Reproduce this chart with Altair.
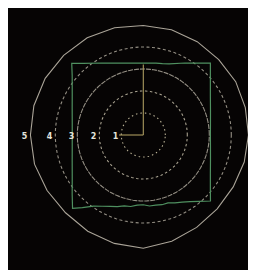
import altair as alt
import pandas as pd

# ---- data (radial units) ----
ring_values = [1, 2, 3, 4]
ring_dashes = [[1.5, 3], [2.5, 2.5], [5, 1], [3, 2.5]]
ring_colors = ["#b8b094", "#a8a290", "#948f84", "#948f84"]

outer_angles = [0, 15, 30, 45, 60, 75, 90, 105, 120, 135, 150, 165, 180,
                195, 210, 225, 240, 255, 270, 285, 300, 315, 330, 345, 360]
outer_radii = [4.78, 4.8, 4.85, 4.85, 4.9, 4.95, 4.98, 5.05, 5.1, 5.12, 5.15, 5.15, 5.13,
               5.12, 5.05, 5.0, 5.05, 5.1, 5.15, 5.0, 4.85, 4.75, 4.72, 4.75, 4.78]

square_angles = [0, 10, 20, 30, 40, 47, 50, 60, 70, 75, 80, 90, 100, 110, 120, 130, 135,
                 140, 150, 160, 170, 180, 190, 200, 210, 220, 226, 230, 235, 240, 245, 250,
                 255, 260, 265, 270, 275, 280, 285, 290, 295, 300, 305, 310, 315.5, 320,
                 330, 340, 350, 360]
square_radii = [3.05, 3.10, 3.25, 3.52, 3.98, 4.47, 4.27, 3.78, 3.44, 3.36, 3.32, 3.27, 3.32,
                3.48, 3.78, 4.25, 4.60, 4.22, 3.73, 3.44, 3.28, 3.23, 3.28, 3.44, 3.73, 4.22,
                4.63, 4.31, 3.95, 3.74, 3.58, 3.46, 3.34, 3.30, 3.20, 3.17, 3.24, 3.24, 3.28,
                3.28, 3.40, 3.52, 3.70, 3.94, 4.28, 3.98, 3.52, 3.25, 3.10, 3.05]

spoke_angles = [90, 180]
spoke_lengths = [3.2, 1.1]

label_texts = ["5", "4", "3", "2", "1"]
label_radii = [5.13, 4, 3, 2, 1]

# ---- tables ----
ring_frames = []
for rv in ring_values:
    for a in range(0, 361, 3):
        ring_frames.append({"ring": rv, "a": a, "r": rv})
rings = pd.DataFrame(ring_frames)

outer = pd.DataFrame({"a": outer_angles, "r": outer_radii, "i": range(len(outer_angles))})
square = pd.DataFrame({"a": square_angles, "r": square_radii, "i": range(len(square_angles))})

spoke_rows = []
for k, (a, ln) in enumerate(zip(spoke_angles, spoke_lengths)):
    spoke_rows.append({"s": k, "a": a, "r": 0, "i": 0})
    spoke_rows.append({"s": k, "a": a, "r": ln, "i": 1})
spokes = pd.DataFrame(spoke_rows)

labels = pd.DataFrame({"t": label_texts, "a": [180] * len(label_texts), "r": label_radii})

W, H = 240, 262
K = 22.0
CX, CY = 135.3, 127.0
xs = alt.Scale(domain=[-CX / K, (W - CX) / K], nice=False, zero=False)
ys = alt.Scale(domain=[-(H - CY) / K, CY / K], nice=False, zero=False)

calc = dict(px="datum.r * cos(datum.a * PI / 180)", py="datum.r * sin(datum.a * PI / 180)")


def base(df):
    return alt.Chart(df).transform_calculate(**calc)


X = alt.X("px:Q", scale=xs, axis=None)
Y = alt.Y("py:Q", scale=ys, axis=None)

layers = []
for rv, dash, col in zip(ring_values, ring_dashes, ring_colors):
    layers.append(
        base(rings[rings.ring == rv]).mark_line(
            color=col, strokeWidth=1.1, strokeDash=dash, interpolate="linear"
        ).encode(x=X, y=Y, order="a:Q")
    )

layers.append(
    base(outer).mark_line(color="#aaa498", strokeWidth=1.1).encode(x=X, y=Y, order="i:Q")
)
layers.append(
    base(square).mark_line(color="#4f9060", strokeWidth=1.2).encode(x=X, y=Y, order="i:Q")
)
layers.append(
    base(spokes).mark_line(color="#ac9b60", strokeWidth=1.1).encode(
        x=X, y=Y, detail="s:N", order="i:Q"
    )
)
layers.append(
    base(labels).mark_text(
        color="#e4e4dc", fontSize=8, fontWeight="bold", align="right", baseline="middle",
        dx=-3, dy=2, font="DejaVu Sans"
    ).encode(x=X, y=Y, text="t:N")
)

chart = alt.layer(*layers).properties(
    width=W, height=H, padding=0, autosize=alt.AutoSizeParams(type="none"),
    background="#060404"
).configure_view(stroke=None, fill="#060404", clip=False)

chart.save("out.html", embed_options={"renderer": "svg", "actions": False})
